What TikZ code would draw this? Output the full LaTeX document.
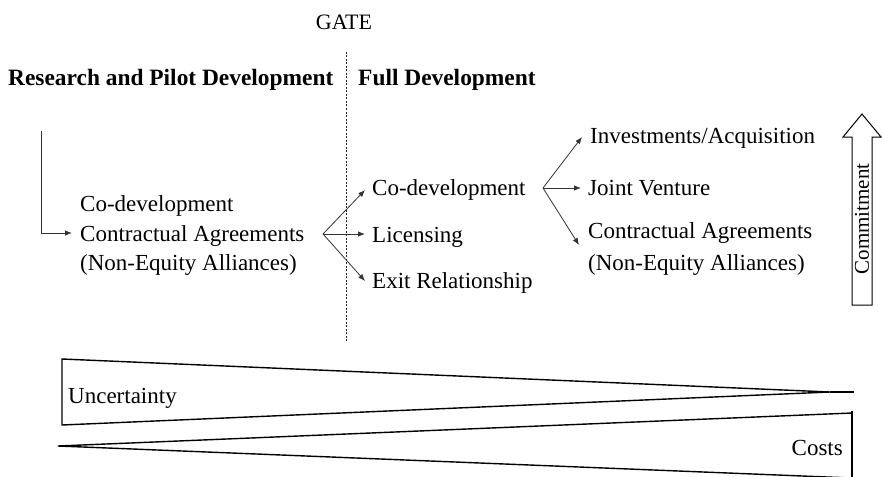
\documentclass[tikz,border=0pt]{standalone}
\usepackage{fontspec}
\setmainfont{Liberation Serif}
\usetikzlibrary{arrows.meta}
\begin{document}
\begin{tikzpicture}[x=1pt,y=-1pt,
  lbl/.style={anchor=base west,inner sep=0pt,font=\fontsize{23}{27}\selectfont},
  head/.style={lbl,font=\fontsize{23.4}{27}\selectfont\bfseries},
  arr/.style={draw=black!80,line width=0.8pt,-{Latex[length=7pt,width=5.5pt]}},
  wedge/.style={draw=black,line width=1.4pt,line join=miter}]
\useasboundingbox (0,0) rectangle (882,476);

% gate and phase headings
\node[anchor=base,inner sep=0pt,font=\fontsize{22}{26}\selectfont] (gate) at (344,30) {GATE};
\draw[black!85,line width=0.8pt,dash pattern=on 2pt off 1.5pt] (346,52) -- (346,342);
\node[head] (rpd) at (8,85) {Research and Pilot Development};
\node[head] (fd) at (358,85) {Full Development};

% research phase options
\node[lbl] (l1) at (80,211) {Co-development};
\node[lbl] (l2) at (80,241) {Contractual Agreements};
\node[lbl] (l3) at (80,270) {(Non-Equity Alliances)};
\coordinate (start) at (41,131);
\coordinate (l2in) at (72,233);
\draw[arr] (start) |- (l2in);

% full development options
\node[lbl] (m1) at (372,195) {Co-development};
\node[lbl] (m2) at (372,242) {Licensing};
\node[lbl] (m3) at (372,288) {Exit Relationship};
\coordinate (fan1) at (323,234);
\coordinate (m1in) at (365,190);
\coordinate (m2in) at (365,234);
\coordinate (m3in) at (365,281);
\draw[arr] (fan1) -- (m1in);
\draw[arr] (fan1) -- (m2in);
\draw[arr] (fan1) -- (m3in);

% follow-on options
\node[lbl] (r1) at (590,143) {Investments/Acquisition};
\node[lbl] (r2) at (588,195) {Joint Venture};
\node[lbl] (r3) at (588,238) {Contractual Agreements};
\node[lbl] (r4) at (588,270) {(Non-Equity Alliances)};
\coordinate (fan2) at (543,188);
\coordinate (r1in) at (582,137);
\coordinate (r2in) at (581,188);
\coordinate (r3in) at (579,245);
\draw[arr] (fan2) -- (r1in);
\draw[arr] (fan2) -- (r2in);
\draw[arr] (fan2) -- (r3in);

% commitment block arrow
\draw[draw=black,line width=1pt,line join=miter,fill=white]
  (852,305) -- (852,137) -- (843,137) -- (862,114) -- (881,137) -- (872,137) -- (872,305) -- cycle;
\node[rotate=90,inner sep=0pt,font=\fontsize{21}{25}\selectfont] (com) at (862,219) {Commitment};

% uncertainty and costs wedges
\draw[wedge] (62,359) -- (830,392) -- (62,425) -- cycle;
\draw[wedge] (830,392) -- (854,392);
\node[lbl] (unc) at (68,403) {Uncertainty};
\draw[wedge] (852,413) -- (58,446) -- (852,478);
\draw[wedge] (852,411) -- (852,478);
\node[anchor=base east,inner sep=0pt,font=\fontsize{23}{27}\selectfont] (cst) at (843,455) {Costs};
\end{tikzpicture}
\end{document}
